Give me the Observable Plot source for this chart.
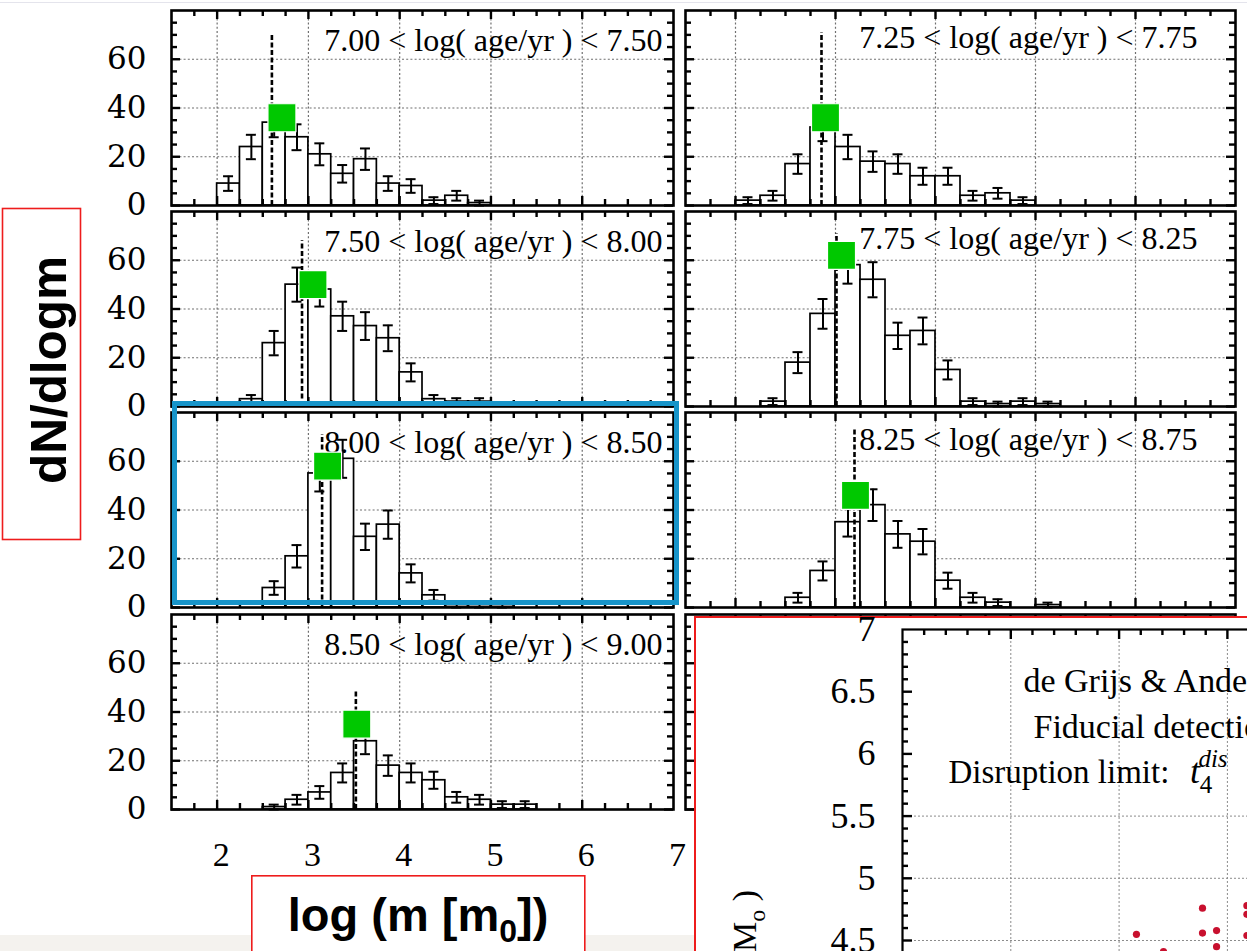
<!DOCTYPE html>
<html>
<head>
<meta charset="utf-8">
<script src="https://cdn.jsdelivr.net/npm/d3@7"></script>
<script src="https://cdn.jsdelivr.net/npm/@observablehq/plot@0.6"></script>
<style>
  html, body { margin: 0; padding: 0; background: #fff; }
  #page { position: relative; width: 1247px; height: 951px; overflow: hidden; background: #fff; }
  .abs { position: absolute; }
  .abs svg { display: block; overflow: visible; max-width: none !important; }
</style>
</head>
<body>
<div id="page"></div>
<script>
// ---- mass bins (left edges, log m) ----
const massBins = [2.00, 2.25, 2.50, 2.75, 3.00, 3.25, 3.50, 3.75, 4.00, 4.25, 4.50, 4.75, 5.00, 5.25];
const binWidth = 0.25;

// ---- age ranges of the panels ----
const ageRanges = [
  "7.00 < log( age/yr ) < 7.50",
  "7.25 < log( age/yr ) < 7.75",
  "7.50 < log( age/yr ) < 8.00",
  "7.75 < log( age/yr ) < 8.25",
  "8.00 < log( age/yr ) < 8.50",
  "8.25 < log( age/yr ) < 8.75",
  "8.50 < log( age/yr ) < 9.00"
];

// ---- dN/dlogm per bin and its error, one pair per age range ----
const dn700 = [9, 24, 34, 28, 21, 13, 19, 9, 8, 2, 4, 1, 0, 0];
const err700 = [3, 5, 6, 5.3, 4.5, 3.6, 4.4, 3, 2.8, 1.4, 2, 1, 0, 0];
const dn725 = [2, 4, 17, 32, 24, 18, 17, 12, 12, 4, 5, 2, 0, 0];
const err725 = [1.4, 2, 4, 5.6, 5, 4.2, 4, 3.5, 3.5, 2, 2.2, 1.4, 0, 0];
const dn750 = [0, 3, 26, 50, 48, 37, 33, 28, 14, 3, 2, 2, 0, 0];
const err750 = [0, 1.7, 5, 7, 7, 6, 5.7, 5.3, 3.7, 1.7, 1.4, 1.4, 0, 0];
const dn775 = [0, 2, 18, 38, 58, 52, 29, 31, 15, 2, 1, 2, 1, 0];
const err775 = [0, 1.4, 4.3, 6.1, 7.6, 7.2, 5.4, 5.5, 3.9, 1.4, 1, 1.4, 1, 0];
const dn800 = [0, 0, 8, 21, 55, 61, 29, 34, 14, 5, 1, 1, 1, 0];
const err800 = [0, 0, 2.8, 4.6, 7.4, 7.8, 5.4, 5.8, 3.7, 2.2, 1, 1, 1, 0];
const dn825 = [0, 0, 4, 15, 35, 42, 30, 27, 11, 4, 2, 0, 1, 0];
const err825 = [0, 0, 2, 3.9, 5.9, 6.5, 5.5, 5.2, 3.3, 2, 1.4, 0, 1, 0];
const dn850 = [0, 0, 1, 4, 7, 15, 28, 18, 15, 12, 5, 4, 2, 2];
const err850 = [0, 0, 1, 2, 2.6, 3.9, 5.3, 4.2, 3.9, 3.5, 2.2, 2, 1.4, 1.4];

// ---- dashed peak line (position, height) and green peak marker ----
const peakMass = [2.60, 2.86, 2.93, 3.01, 3.15, 3.19, 3.52];
const peakHeight = [70, 71, 68, 71, 71, 73, 49];
const markerMass = [2.71, 2.90, 3.05, 3.06, 3.21, 3.20, 3.53];
const markerDn = [36, 36, 50, 62, 58, 46, 35];

// ---- axis ticks ----
const massTicks = [2, 3, 4, 5, 6];
const massMinorTicks = [1.75, 2.25, 2.5, 2.75, 3.25, 3.5, 3.75, 4.25, 4.5, 4.75, 5.25, 5.5, 5.75, 6.25, 6.5, 6.75];
const massTickLabels = [2, 3, 4, 5, 6, 7];
const dnTicks = [0, 20, 40, 60];
const dnMinorTicks = [5, 10, 15, 25, 30, 35, 45, 50, 55, 65, 70, 75];
const dnGrid = [20, 40, 60];

// ---- inset: cluster masses vs age ----
const insetAge = [8.16, 8.77, 8.77, 8.90, 8.90, 8.41, 9.18, 9.18, 9.18];
const insetMass = [4.55, 4.76, 4.56, 4.58, 4.45, 4.41, 4.78, 4.71, 4.54];
const insetMassTicks = [4.5, 5, 5.5, 6, 6.5, 7];
const insetMassMajor = [3.5, 4, 4.5, 5, 5.5, 6, 6.5];
const insetAgeGrid = [7, 8, 9, 10];
const insetMassGrid = [4.5, 5, 5.5];
const insetLines = ["de Grijs & Anders (2006)", "Fiducial detection limit", "Disruption limit:"];

const page = document.getElementById("page");
function place(node, left, top, width) {
  const div = document.createElement("div");
  div.className = "abs";
  div.style.left = left + "px";
  div.style.top = top + "px";
  if (width) div.style.width = width + "px";
  div.appendChild(node);
  page.appendChild(div);
  return div;
}
function block(style) {
  const d = document.createElement("div");
  d.className = "abs";
  Object.assign(d.style, style);
  page.appendChild(d);
  return d;
}

// faint line along the top edge
block({left: "0px", top: "2px", width: "1247px", height: "1px", background: "#e4e4ec"});

// inward tick marks: rules inset so that only a short piece next to each frame edge remains
function innerTicks({frameW, frameH, xMajor, xMinor, yMajor, yMinor, sides, major = 9, minor = 6}) {
  const out = [];
  const st = {stroke: "black", strokeWidth: 2.4};
  for (const [ticks, len] of [[xMajor, major], [xMinor, minor]]) {
    if (sides.includes("bottom")) out.push(Plot.ruleX(ticks, {...st, insetTop: frameH - len}));
    if (sides.includes("top")) out.push(Plot.ruleX(ticks, {...st, insetBottom: frameH - len}));
  }
  for (const [ticks, len] of [[yMajor, major], [yMinor, minor]]) {
    if (sides.includes("left")) out.push(Plot.ruleY(ticks, {...st, insetRight: frameW - len}));
    if (sides.includes("right")) out.push(Plot.ruleY(ticks, {...st, insetLeft: frameW - len}));
  }
  return out;
}

// ---- histogram panels ----
const columns = [{x0: 171, w: 502}, {x0: 685, w: 550}];
const rowTops = [10, 211, 412, 614];
const panelH = 195;
const xDomain = [1.5, 7], yDomain = [0, 80];
const dotted = {stroke: "#6f6f6f", strokeDasharray: "2,2.2", strokeWidth: 1.2};

function histPanel({col, row, title, dn, err, peak, marker, showY, showX}) {
  const C = columns[col];
  const mL = showY ? 80 : 4, mR = 6, mT = 4, mB = showX ? 70 : 4;
  const pxX = C.w / (xDomain[1] - xDomain[0]);
  const cap = 5 / pxX;
  const bars = dn ? massBins.map((x, i) => ({x1: x, x2: x + binWidth, xc: x + binWidth / 2, v: dn[i], e: err[i]}))
                          .filter(d => d.v > 0) : [];
  const marks = [
    Plot.ruleX(massTicks, dotted),
    Plot.ruleY(dnGrid, dotted),
    Plot.rect(bars, {x1: "x1", x2: "x2", y1: 0, y2: "v", fill: "white", stroke: "black", strokeWidth: 1.7}),
    Plot.ruleX(bars, {x: "xc", y1: d => d.v - d.e, y2: d => d.v + d.e, stroke: "black", strokeWidth: 2}),
    Plot.ruleY(bars, {y: d => d.v + d.e, x1: d => d.xc - cap, x2: d => d.xc + cap, stroke: "black", strokeWidth: 2}),
    Plot.ruleY(bars, {y: d => d.v - d.e, x1: d => d.xc - cap, x2: d => d.xc + cap, stroke: "black", strokeWidth: 2})
  ];
  if (title) {
    marks.push(Plot.text([title], {
      frameAnchor: "top-right", dx: col === 0 ? -11 : -38, dy: col === 0 ? 40 : 37,
      textAnchor: "end", lineAnchor: "bottom", fontSize: 32, fontFamily: "Liberation Serif, Times New Roman, serif", fill: "black"
    }));
  }
  if (peak) {
    marks.push(Plot.ruleX([peak], {x: "x", y1: 0, y2: "top", stroke: "black", strokeWidth: 2.6, strokeDasharray: "5,2.5"}));
  }
  if (marker) {
    marks.push(Plot.dot([marker], {x: "x", y: "y", symbol: "square", r: 15.8, fill: "#00c800", stroke: "white", strokeWidth: 1.2}));
  }
  marks.push(Plot.frame({stroke: "black", strokeWidth: 2.6}));
  marks.push(...innerTicks({frameW: C.w, frameH: panelH, xMajor: massTicks, xMinor: massMinorTicks,
    yMajor: dnTicks, yMinor: dnMinorTicks, sides: ["bottom", "top", "left", "right"]}));
  if (showY) {
    marks.push(Plot.axisY(dnTicks, {anchor: "left", tickSize: 0, tickPadding: 25, fontSize: 31,
      fontFamily: "DejaVu Serif, serif", label: null, tickFormat: d => String(d)}));
  }
  if (showX) {
    marks.push(Plot.axisX(massTickLabels, {anchor: "bottom", tickSize: 0, tickPadding: 32, dx: 4, fontSize: 34,
      fontFamily: "Liberation Serif, Times New Roman, serif", label: null, tickFormat: d => String(d)}));
  }
  const width = mL + C.w + mR;
  const svg = Plot.plot({
    width, height: mT + panelH + mB,
    marginLeft: mL, marginRight: mR, marginTop: mT, marginBottom: mB,
    x: {domain: xDomain, axis: null}, y: {domain: yDomain, axis: null},
    style: {background: "transparent", color: "black", overflow: "visible", maxWidth: "none"},
    marks
  });
  place(svg, C.x0 - mL, rowTops[row] - mT, width);
}

const dnSeries = [dn700, dn725, dn750, dn775, dn800, dn825, dn850];
const errSeries = [err700, err725, err750, err775, err800, err825, err850];
ageRanges.forEach((title, i) => {
  const col = i % 2, row = Math.floor(i / 2);
  histPanel({
    col, row, title, dn: dnSeries[i], err: errSeries[i],
    peak: {x: peakMass[i], top: peakHeight[i]},
    marker: {x: markerMass[i], y: markerDn[i]},
    showY: col === 0, showX: row === 3
  });
});
// the last panel of the right column sits behind the inset
histPanel({col: 1, row: 3});

// highlight around the 8.00–8.50 panel
block({left: "172px", top: "401px", width: "507px", height: "204px", border: "5px solid #1794c9", boxSizing: "border-box"});

// strip along the bottom edge
block({left: "0px", top: "935px", width: "694px", height: "16px", background: "#f4f2ee"});

// ---- inset: mass vs age ----
{
  block({left: "694px", top: "616px", width: "600px", height: "400px",
    borderLeft: "2px solid #ee1c1c", borderTop: "2px solid #ee1c1c", background: "white"});

  const mL = 206, mT = 11, mR = 4, mB = 4;
  const ageDomain = [6, 10.5], massDomain = [3, 7];
  const pxAge = 108.3, pxMass = 124.4;
  const w = (ageDomain[1] - ageDomain[0]) * pxAge, h = (massDomain[1] - massDomain[0]) * pxMass;
  const serif = "Liberation Serif, Times New Roman, serif";
  const pts = insetAge.map((a, i) => ({age: a, mass: insetMass[i]}));
  const ageMinor = d3.range(6.2, 10.5, 0.2).filter(v => Math.abs(v - Math.round(v)) > 1e-6);
  const massMinor = d3.range(3.1, 7, 0.1).filter(v => Math.abs(v * 2 - Math.round(v * 2)) > 1e-6);
  const width = mL + w + mR;
  const svg = Plot.plot({
    width, height: mT + h + mB,
    marginLeft: mL, marginRight: mR, marginTop: mT, marginBottom: mB,
    x: {domain: ageDomain, axis: null}, y: {domain: massDomain, axis: null},
    style: {background: "transparent", color: "black", overflow: "visible", maxWidth: "none"},
    marks: [
      Plot.ruleX(insetAgeGrid, {stroke: "#8a8a8a", strokeDasharray: "2,2", strokeWidth: 1}),
      Plot.ruleY(insetMassGrid, {stroke: "#8a8a8a", strokeDasharray: "2,2", strokeWidth: 1}),
      Plot.dot(pts, {x: "age", y: "mass", r: 3.6, fill: "#c8102e", stroke: "none"}),
      Plot.text([insetLines[0]], {frameAnchor: "top-left", dx: 121, dy: 63, textAnchor: "start", lineAnchor: "bottom",
        fontSize: 34, fontFamily: serif, fill: "black"}),
      Plot.text([insetLines[1]], {frameAnchor: "top-left", dx: 131, dy: 109, textAnchor: "start", lineAnchor: "bottom",
        fontSize: 34, fontFamily: serif, fill: "black"}),
      Plot.text([insetLines[2]], {frameAnchor: "top-left", dx: 46, dy: 154, textAnchor: "start", lineAnchor: "bottom",
        fontSize: 33, fontFamily: serif, fill: "black"}),
      Plot.frame({stroke: "black", strokeWidth: 2.2}),
      ...innerTicks({frameW: w, frameH: h, xMajor: insetAgeGrid, xMinor: ageMinor,
        yMajor: insetMassMajor, yMinor: massMinor, sides: ["top", "left"], major: 10, minor: 6}),
      Plot.axisY(insetMassTicks, {anchor: "left", tickSize: 0, tickPadding: 27, fontSize: 36, fontFamily: serif,
        label: null, tickFormat: d => String(d)})
    ]
  });
  const sel = d3.select(svg);
  // timescale symbol t_4^dis after "Disruption limit:"
  const t = sel.append("text").attr("font-family", serif).attr("fill", "black");
  t.append("tspan").attr("x", 499).attr("y", 165).attr("font-size", 36).attr("font-style", "italic").text("t");
  t.append("tspan").attr("x", 510).attr("y", 175).attr("font-size", 25).text("4");
  t.append("tspan").attr("x", 517).attr("y", 149).attr("font-size", 25).attr("font-style", "italic").text("dis");
  // vertical axis title
  const yl = sel.append("text").attr("font-family", serif).attr("font-size", 34).attr("fill", "black")
    .attr("text-anchor", "end").attr("transform", "translate(60,272) rotate(-90)");
  yl.append("tspan").text("log( M/M");
  yl.append("tspan").attr("dy", 9).attr("font-size", 24).text("o");
  yl.append("tspan").attr("dy", -9).text(" )");
  place(svg, 696, 618, width);
}

// ---- axis titles in boxes ----
{
  const svg = d3.create("svg").attr("width", 90).attr("height", 560);
  svg.append("rect").attr("x", 2.5).attr("y", 208.5).attr("width", 78).attr("height", 331)
    .attr("fill", "white").attr("stroke", "#ee1c1c").attr("stroke-width", 1.6);
  svg.append("text").attr("transform", "translate(66,370) rotate(-90)")
    .attr("text-anchor", "middle").attr("font-family", "Liberation Sans Narrow, Arial Narrow, Liberation Sans, Arial, sans-serif")
    .attr("font-weight", "bold").attr("font-size", 50).attr("textLength", 228).attr("lengthAdjust", "spacingAndGlyphs")
    .attr("fill", "black").text("dN/dlogm");
  place(svg.node(), 0, 0, 90);

  const sx = d3.create("svg").attr("width", 340).attr("height", 80);
  sx.append("rect").attr("x", 0.8).attr("y", 0.8).attr("width", 333).attr("height", 120)
    .attr("fill", "white").attr("stroke", "#ee1c1c").attr("stroke-width", 1.6);
  const tx = sx.append("text").attr("x", 167).attr("y", 56).attr("text-anchor", "middle")
    .attr("font-family", "Liberation Sans, Arial, sans-serif").attr("font-weight", "bold")
    .attr("font-size", 47).attr("fill", "black");
  tx.append("tspan").text("log (m [m");
  tx.append("tspan").attr("dy", 11).attr("font-size", 32).text("0");
  tx.append("tspan").attr("dy", -11).text("])");
  place(sx.node(), 251, 875, 340);
}
</script>
</body>
</html>
